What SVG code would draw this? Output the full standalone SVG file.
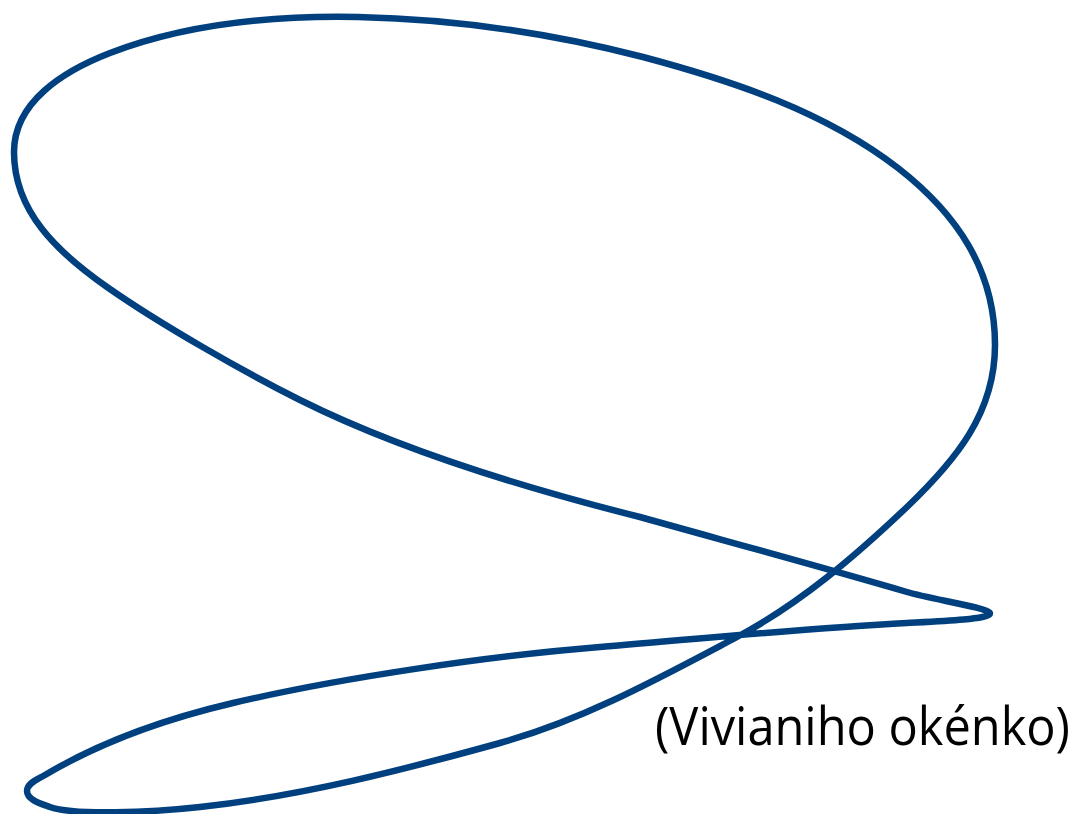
<svg xmlns="http://www.w3.org/2000/svg" width="1075" height="814" viewBox="0 0 1075 814">
<style>
.curve{fill:none;stroke:#00407f;stroke-width:6.5;stroke-linejoin:round;stroke-linecap:round}
.label{font-family:"Open Sans","Noto Sans","DejaVu Sans",sans-serif;font-size:53px;fill:#000}
</style>
<rect width="1075" height="814" fill="#fff"/>
<g id="connectors">
<path id="viviani-curve" class="curve" d="M358,17 C454,19 550,33 643,57 C733,81 824.5,111.3 898,168 C957,214 995,270 995,345 C995,413 956,460 907,507 C855.5,556 799.8,603.8 737,637 C660,677.7 583.9,719.7 500,743 C401.7,770.3 301.4,795.9 200,807 C150.3,812.5 73.5,815.5 50,807 C41.5,803.9 27,800 27,791 C27,783 38.1,779.1 45,775 C102.6,740.8 167.8,718.3 233,703 C340,677.8 490.3,655.8 600,647 C702.7,638.8 804,628.2 907,623 C934,621.6 990,619.5 990,613.5 C990,608 933,599.6 907,592 C818.7,566.2 728.6,541.8 640,517 C530.4,489.5 401,450.5 300,400 C242.8,371.4 159.4,323.7 107,287 C57.9,252.6 14,212 14,152 C14,102 63.4,71 110,53 C188.4,22.8 274,15.3 358,17 Z"/>
</g>
<g id="label-node">
<text class="label" x="655" y="745" textLength="415" lengthAdjust="spacingAndGlyphs">(Vivianiho okénko)</text>
</g>
</svg>
